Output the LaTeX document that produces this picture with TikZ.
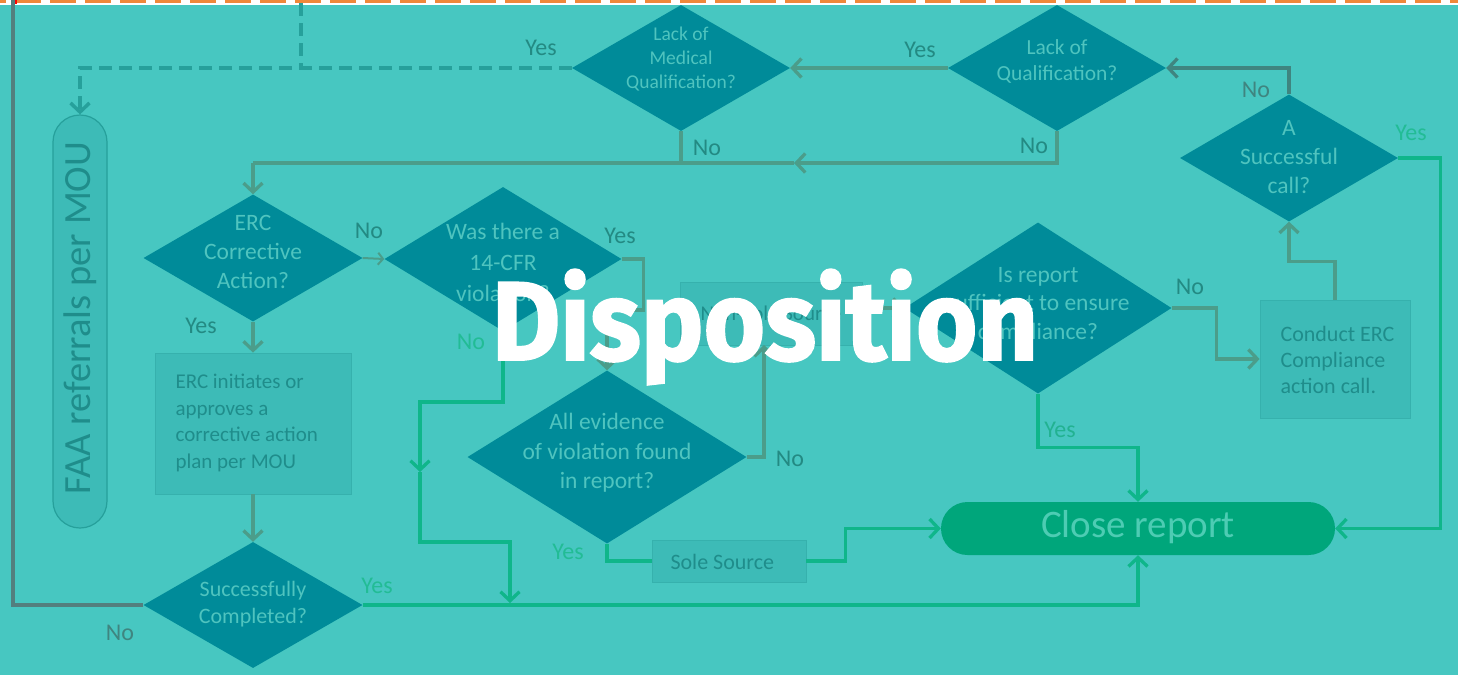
\documentclass[tikz,border=0pt]{standalone}
\usepackage{fontspec}
\setmainfont{Carlito}
\newfontfamily\dispfont{Fira Sans}[BoldFeatures={FakeBold=1.6}]
\usetikzlibrary{shapes.geometric,arrows.meta}
\definecolor{bg}{HTML}{47C7C1}
\definecolor{diafill}{HTML}{008B99}
\definecolor{diatext}{HTML}{4FC4BF}
\definecolor{boxfill}{HTML}{3DBBB7}
\definecolor{boxline}{HTML}{36B1AD}
\definecolor{boxtext}{HTML}{1F8D8B}
\definecolor{labdark}{HTML}{238A83}
\definecolor{labgreen}{HTML}{22BC95}
\definecolor{labgray}{HTML}{3F8580}
\definecolor{lgg}{HTML}{4B9D8A}
\definecolor{lgreen}{HTML}{0FB68A}
\definecolor{lgray}{HTML}{537F7E}
\definecolor{dashc}{HTML}{26A09B}
\definecolor{closefill}{HTML}{00A67B}
\definecolor{closetext}{HTML}{4DCCB3}
\definecolor{orangeb}{HTML}{F0883A}
\begin{document}
\begin{tikzpicture}[x=1pt,y=-1pt,
  dia/.style={diamond,fill=diafill,draw=none,inner sep=0pt},
  dtext/.style={text=diatext,align=center},
  boxn/.style={rectangle,fill=boxfill,draw=boxline,line width=0.8pt,inner sep=0pt},
  btext/.style={text=boxtext,align=left,font=\fontsize{21}{26.5}\selectfont},
  lab/.style={font=\fontsize{24}{24}\selectfont,inner sep=0pt},
  gg/.style={draw=lgg,line width=3.3pt},
  gr/.style={draw=lgreen,line width=3.3pt},
  gy/.style={draw=lgray,line width=3.6pt},
  arr/.style={-{Straight Barb[length=9pt,width=19pt]}},
  sarr/.style={-{Straight Barb[length=5pt,width=12pt]}},
  dashl/.style={draw=dashc,line width=3.5pt,dash pattern=on 13pt off 7pt}
]
\fill[bg] (0,0) rectangle (1458,675);
\useasboundingbox (0,0) rectangle (1458,675);
% top border
\fill[white] (0,0) rectangle (1458,5);
\foreach \i in {0,...,41} {\fill[orangeb] (15+35*\i,0) rectangle (41+35*\i,3);}
\fill[orangeb] (0,0) rectangle (6,3);
\fill[red] (12,0) rectangle (17,4);

% diamonds
\node[dia,minimum width=218,minimum height=126] (LoM) at (681,68) {};
\node[dtext,font=\fontsize{19.5}{24}\selectfont] (LoMt) at (681,59) {Lack of\\Medical\\Qualification?};
\node[dia,minimum width=218,minimum height=126] (LoQ) at (1057,68) {};
\node[dtext,font=\fontsize{21.5}{26}\selectfont] (LoQt) at (1057,61) {Lack of\\Qualification?};
\node[dia,minimum width=218,minimum height=127] (ASC) at (1289,158) {};
\node[dtext,font=\fontsize{23.5}{29}\selectfont] (ASCt) at (1289,157) {A\\Successful\\call?};
\node[dia,minimum width=219,minimum height=127] (ERC) at (253,258) {};
\node[dtext,font=\fontsize{23.5}{29}\selectfont] (ERCt) at (253,252) {ERC\\Corrective\\Action?};
\node[dia,minimum width=237,minimum height=144] (WT) at (503,259) {};
\node[dtext,font=\fontsize{23.5}{31}\selectfont] (WTt) at (503,262) {Was there a\\14-CFR\\violation?};
\node[dia,minimum width=279,minimum height=173] (AE) at (607,457) {};
\node[dtext,font=\fontsize{23.5}{29.5}\selectfont] (AEt) at (607,453) {All evidence\\of violation found\\in report?};
\node[dia,minimum width=267,minimum height=171] (IR) at (1038,308) {};
\node[dtext,font=\fontsize{23.5}{28.5}\selectfont] (IRt) at (1038,305) {Is report\\sufficient to ensure\\compliance?};
\node[dia,minimum width=219,minimum height=126] (SC) at (253,605) {};
\node[dtext,font=\fontsize{22}{27}\selectfont] (SCt) at (253,604) {Successfully\\Completed?};

% boxes
\node[boxn,minimum width=196,minimum height=141] (EB) at (253,423.5) {};
\node[btext,anchor=west] (EBt) at (172,423) {ERC initiates or\\approves a\\corrective action\\plan per MOU};
\node[boxn,minimum width=182,minimum height=63] (NSS) at (771,313.5) {};
\node[btext,font=\fontsize{21}{21}\selectfont] (NSSt) at (771,313) {Non-Sole Source};
\node[boxn,minimum width=154,minimum height=42] (SS) at (729,561) {};
\node[btext,anchor=west,font=\fontsize{22}{22}\selectfont] (SSt) at (667,562) {Sole Source};
\node[boxn,minimum width=150,minimum height=118] (CB) at (1335,359) {};
\node[btext,anchor=west,font=\fontsize{22}{26}\selectfont] (CBt) at (1277,360) {Conduct ERC\\Compliance\\action call.};

% terminals
\node[rectangle,rounded corners=27pt,fill=boxfill,draw=dashc,line width=1.2pt,minimum width=54,minimum height=413,inner sep=0pt] (FAA) at (80,321.5) {};
\node[text=boxtext,rotate=90,font=\fontsize{38.5}{38.5}\selectfont] (FAAt) at (80,318) {FAA referrals per MOU};
\node[rectangle,rounded corners=26.5pt,fill=closefill,draw=none,minimum width=394,minimum height=53,inner sep=0pt] (CR) at (1138,528.5) {};
\node[text=closetext,font=\fontsize{39}{39}\selectfont] (CRt) at (1138,527) {Close report};

% coordinates
\coordinate (topL) at (13,-3);
\coordinate (topD) at (301,3);
\coordinate (m1) at (794,163);
\coordinate (m2) at (253,163);
\coordinate (w1) at (420,402);
\coordinate (w2) at (420,472);
\coordinate (w3) at (420,542);
\coordinate (w4) at (510,603);
\coordinate (n1) at (764,345);

% connectors
\draw[dashl] (topD) -- (topD |- LoM.west);
\draw[dashl,arr] (LoM.west) -| (FAA.north);
\draw[gg,arr] (LoQ.west) -- (LoM.east);
\draw[gg,arr] (LoQ.south) |- (m1);
\draw[gg] (m1) -- (m2);
\draw[gg] (LoM.south) -- (LoM.south |- m1);
\draw[gg,arr] (m2) -- (ERC.north);
\draw[draw=labgray,line width=3.3pt,arr] (ASC.north) |- (LoQ.east);
\draw[gr,arr] (ASC.east) -- ++(42,0) |- (CR.east);
\draw[gg,arr] (IR.east) -- ++(45,0) |- (CB.west);
\draw[gg,arr] (CB.north) -- ++(0,-38) -| (ASC.south);
\draw[gr,arr] (IR.south) -- ++(0,53.5) -| (CR.north);
\draw[gr,arr] (SC.east) -| (CR.south);
\draw[gy] (SC.west) -| (topL);
\draw[draw=lgg,line width=2pt,sarr] (ERC.east) -- (WT.west);
\draw[gg,arr] (ERC.south) -- (EB.north);
\draw[gg,arr] (EB.south) -- (SC.north);
\draw[gg,arr] (WT.east) -- ++(22,0) -- ++(0,51) -| (AE.north);
\draw[gr,arr] (WT.south) |- (w1) -- (w2);
\draw[gr,arr] (w2) -- (w3) -| (w4);
\draw[gg,arr] (AE.east) -| (n1);
\draw[gg,arr] (NSS.east |- IR.west) -- (IR.west);
\draw[gr] (AE.south) |- (SS.west);
\draw[gr,arr] (SS.east) -- ++(39,0) |- (CR.west);

% labels
\node[lab,text=labdark] (l1) at (541,48) {Yes};
\node[lab,text=labdark] (l2) at (920,50) {Yes};
\node[lab,text=labdark] (l3) at (707,148) {No};
\node[lab,text=labdark] (l4) at (1034,146) {No};
\node[lab,text=labgray] (l5) at (1256,90) {No};
\node[lab,text=labgreen] (l6) at (1411,133) {Yes};
\node[lab,text=labdark] (l7) at (369,231) {No};
\node[lab,text=labdark] (l8) at (201,326) {Yes};
\node[lab,text=labdark] (l9) at (620,236) {Yes};
\node[lab,text=labgreen] (l10) at (471,342) {No};
\node[lab,text=labdark] (l11) at (1190,287) {No};
\node[lab,text=labdark] (l12) at (790,459) {No};
\node[lab,text=labgreen] (l13) at (568,552) {Yes};
\node[lab,text=labgreen!80!labdark] (l14) at (1060,430) {Yes};
\node[lab,text=labgreen] (l15) at (377,586) {Yes};
\node[lab,text=labgray] (l16) at (120,633) {No};

% title overlay
\node[text=white,font=\dispfont\bfseries\fontsize{112}{112}\selectfont,anchor=base,inner sep=0pt] (title) at (765,360) {\scalebox{0.94}[1]{Disposition}};
\end{tikzpicture}
\end{document}
